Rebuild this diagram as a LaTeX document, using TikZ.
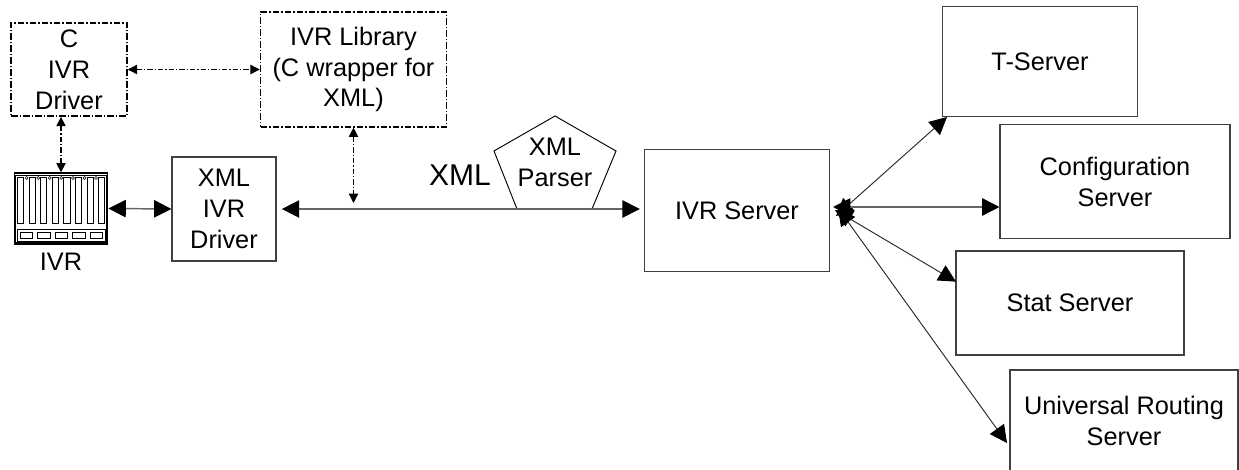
\documentclass[tikz,border=0pt]{standalone}
\usepackage{fontspec}
\setmainfont{Liberation Sans}
\usetikzlibrary{arrows.meta}
\tikzset{
    x=0.75pt, y=-0.75pt,
    boxnode/.style={draw=black!75, line width=0.8pt, align=center, inner sep=0pt, font=\fontsize{19}{23.2}\selectfont},
    dashnode/.style={boxnode, draw=black, line width=1.1pt, dash pattern=on 5pt off 1.5pt on 1pt off 1.5pt},
    biglink/.style={draw=black!60, line width=1.1pt, {Triangle[length=13pt,width=13pt,black]}-{Triangle[length=13pt,width=13pt,black]}},
    thinlink/.style={biglink, draw=black!85, line width=0.7pt},
    dashlink/.style={draw=black, line width=0.9pt, dash pattern=on 4pt off 1.5pt on 1pt off 1.5pt, {Triangle[length=7pt,width=7pt]}-{Triangle[length=7pt,width=7pt]}}
}
\begin{document}
\begin{tikzpicture}
        \useasboundingbox (0,0) rectangle (1239,470);
        % boxes
        \node[dashnode, minimum width=87pt, minimum height=70pt] (cdriver) at (69,69.5) {C\\IVR\\Driver};
        \node[dashnode, minimum width=139.5pt, minimum height=86pt] (library) at (353.5,69.5) {IVR Library\\(C wrapper for\\XML)};
        \node[boxnode, minimum width=78pt, minimum height=78pt] (xmldriver) at (224,209) {XML\\IVR\\Driver};
        \node[boxnode, minimum width=139pt, minimum height=92pt] (ivrserver) at (737,210.5) {IVR Server};
        \node[boxnode, minimum width=146pt, minimum height=82pt] (tserver) at (1040,61.5) {T-Server};
        \node[boxnode, minimum width=172.5pt, minimum height=86pt] (config) at (1115,181.5) {Configuration\\Server};
        \node[boxnode, minimum width=171pt, minimum height=78pt] (stat) at (1070,303) {Stat Server};
        \node[boxnode, minimum width=171pt, minimum height=76.5pt] (routing) at (1124,421) {Universal Routing\\Server};
        % parser, the line runs along its foot
        \draw[fill=white, line width=0.7pt] (555,116) -- (616,151) -- (592,209) -- (517,209) -- (494,151) -- cycle;
        \node[align=center, inner sep=0pt, font=\fontsize{19}{23.2}\selectfont] (parser) at (555,162) {XML\\Parser};
        \node[inner sep=0pt, font=\fontsize{22.5}{26}\selectfont] (xmllabel) at (460,175) {XML};
        % ivr rack
        \node[draw=black, line width=1.2pt, minimum width=70pt, minimum height=53pt, inner sep=0pt] (ivr) at (61,208.5) {};
        \draw[line width=0.5pt] (15.7,175) rectangle (106.5,242.5);
        \foreach \i in {0,...,7}
            \draw[line width=0.5pt] (17.3+11.6*\i,177) rectangle (23.5+11.6*\i,223);
        \foreach \i in {0,...,6}
            \draw[line width=0.4pt] (26.7+11.55*\i,178) circle (1.5);
        \draw[line width=0.7pt] (17,229) rectangle (105,241);
        \foreach \i in {0,...,4}
            \draw[line width=0.6pt] (20+17.5*\i,232) rectangle (32.5+17.5*\i,238);
        \node[inner sep=0pt, font=\fontsize{19}{23.2}\selectfont] (ivrlabel) at (61,262) {IVR};
        % free ends
        \coordinate (hubt) at (836,216);
        \coordinate (hubc) at (833,207);
        \coordinate (hubs) at (835,210);
        \coordinate (hubr) at (838,208);
        \coordinate (tap) at (353.5,203);
        \coordinate (tend) at (947,117);
        \coordinate (statend) at (956,281.7);
        \coordinate (routingend) at (1007,443);
        % links
        \draw[dashlink] (cdriver.east) -- (library.west |- cdriver.east);
        \draw[dashlink] (cdriver.south -| ivr.north) -- (ivr.north);
        \draw[dashlink] (library.south) -- (tap);
        \draw[biglink] (ivr.east) -- (xmldriver.west);
        \draw[biglink, shorten <=4pt, shorten >=3pt] (xmldriver.east) -- (xmldriver.east -| ivrserver.west);
        \draw[thinlink] (hubt) -- (tend);
        \draw[biglink] (hubc) -- (hubc -| config.west);
        \draw[thinlink] (hubs) -- (statend);
        \draw[thinlink] (hubr) -- (routingend);
    \end{tikzpicture}
\end{document}
